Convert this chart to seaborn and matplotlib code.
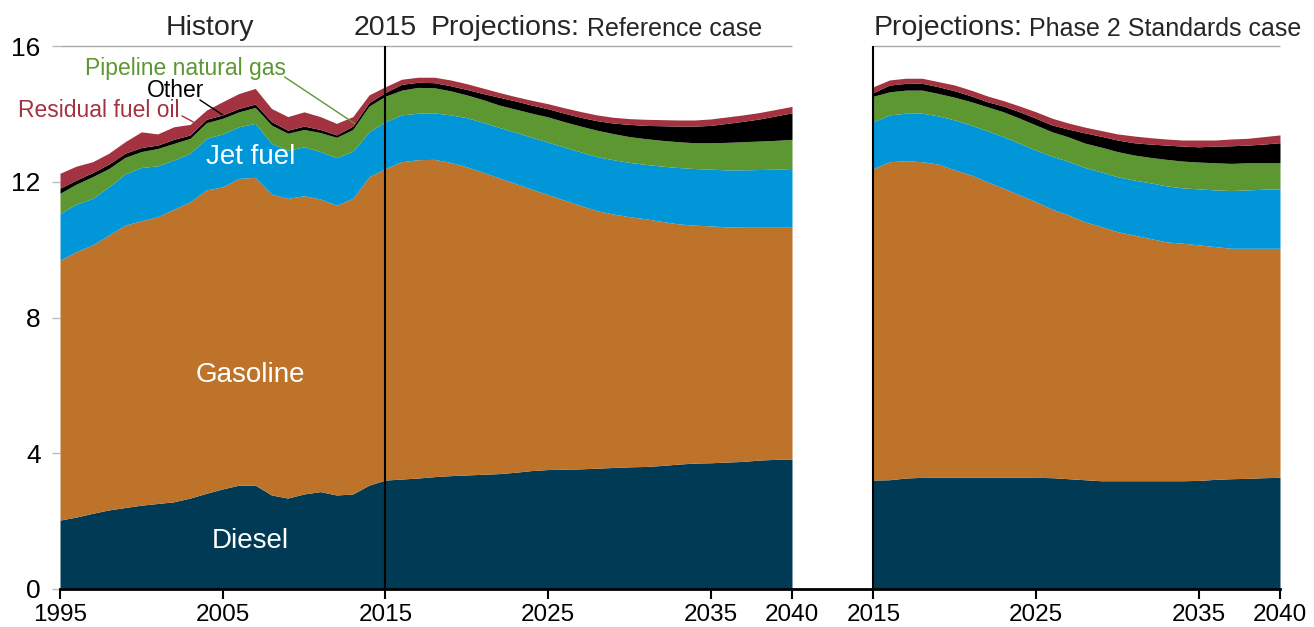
import numpy as np
import matplotlib
matplotlib.use("Agg")
import matplotlib.pyplot as plt
import seaborn as sns

# Reference case: history 1995-2015 + projections 2016-2040 (million barrels/day oil equiv.)
years_ref = list(range(1995, 2041))
diesel_ref = [2.03, 2.12, 2.23, 2.33, 2.40, 2.47, 2.52, 2.57, 2.68, 2.82, 2.95, 3.06, 3.06, 2.77, 2.68,
              2.80, 2.87, 2.77, 2.80, 3.06, 3.21,
              3.24, 3.27, 3.31, 3.34, 3.36, 3.38, 3.40, 3.44, 3.49, 3.52, 3.53, 3.54, 3.56, 3.58, 3.60,
              3.61, 3.64, 3.68, 3.71, 3.72, 3.74, 3.76, 3.80, 3.82, 3.82]
gasoline_ref = [7.66, 7.82, 7.91, 8.10, 8.32, 8.38, 8.45, 8.62, 8.73, 8.94, 8.90, 9.04, 9.07, 8.87, 8.83,
                8.79, 8.62, 8.54, 8.71, 9.09, 9.18,
                9.35, 9.38, 9.35, 9.23, 9.08, 8.90, 8.71, 8.51, 8.29, 8.10, 7.93, 7.76, 7.59, 7.47, 7.37,
                7.30, 7.19, 7.08, 7.01, 6.98, 6.93, 6.90, 6.86, 6.84, 6.84]
jet_ref = [1.38, 1.40, 1.37, 1.42, 1.51, 1.57, 1.50, 1.45, 1.43, 1.52, 1.56, 1.52, 1.59, 1.49, 1.42,
           1.44, 1.40, 1.40, 1.39, 1.32, 1.38,
           1.38, 1.37, 1.37, 1.40, 1.45, 1.47, 1.49, 1.51, 1.53, 1.55, 1.56, 1.58, 1.59, 1.60, 1.60,
           1.60, 1.63, 1.66, 1.67, 1.67, 1.68, 1.69, 1.70, 1.71, 1.73]
natgas_ref = [0.59, 0.59, 0.64, 0.54, 0.49, 0.47, 0.51, 0.49, 0.44, 0.46, 0.46, 0.44, 0.47, 0.54, 0.50,
              0.51, 0.56, 0.60, 0.64, 0.76, 0.75,
              0.73, 0.76, 0.74, 0.71, 0.67, 0.67, 0.66, 0.68, 0.71, 0.74, 0.75, 0.76, 0.78, 0.77, 0.76,
              0.76, 0.76, 0.76, 0.76, 0.78, 0.81, 0.83, 0.84, 0.85, 0.86]
other_ref = [0.15, 0.12, 0.12, 0.13, 0.12, 0.12, 0.10, 0.12, 0.10, 0.10, 0.10, 0.10, 0.10, 0.10, 0.09,
             0.10, 0.09, 0.07, 0.10, 0.10, 0.11,
             0.17, 0.15, 0.15, 0.15, 0.16, 0.18, 0.23, 0.24, 0.24, 0.24, 0.25, 0.26, 0.28, 0.31, 0.36,
             0.39, 0.43, 0.46, 0.49, 0.51, 0.56, 0.60, 0.65, 0.72, 0.78]
resid_ref = [0.44, 0.41, 0.32, 0.32, 0.34, 0.46, 0.33, 0.37, 0.31, 0.27, 0.39, 0.44, 0.46, 0.39, 0.40,
             0.42, 0.38, 0.34, 0.28, 0.23, 0.17,
             0.15, 0.15, 0.16, 0.17, 0.17, 0.16, 0.14, 0.13, 0.14, 0.15, 0.16, 0.17, 0.17, 0.17, 0.17,
             0.18, 0.18, 0.18, 0.18, 0.19, 0.19, 0.19, 0.19, 0.19, 0.19]

# Phase 2 Standards case 2015-2040
years_p2 = list(range(2015, 2041))
diesel_p2 = [3.21, 3.22, 3.27, 3.29, 3.29, 3.29, 3.29, 3.29, 3.29, 3.29, 3.29, 3.28, 3.25, 3.22, 3.19,
             3.19, 3.19, 3.19, 3.19, 3.19, 3.20, 3.23, 3.25, 3.26, 3.28, 3.29]
gasoline_p2 = [9.18, 9.37, 9.35, 9.30, 9.23, 9.06, 8.91, 8.71, 8.52, 8.32, 8.12, 7.91, 7.77, 7.60, 7.49,
               7.34, 7.24, 7.14, 7.04, 7.00, 6.94, 6.86, 6.79, 6.78, 6.76, 6.75]
jet_p2 = [1.38, 1.38, 1.40, 1.43, 1.42, 1.47, 1.47, 1.50, 1.52, 1.52, 1.52, 1.56, 1.58, 1.60, 1.61,
          1.62, 1.62, 1.64, 1.65, 1.63, 1.65, 1.67, 1.70, 1.72, 1.74, 1.75]
natgas_p2 = [0.75, 0.68, 0.68, 0.68, 0.66, 0.67, 0.69, 0.71, 0.73, 0.74, 0.74, 0.72, 0.72, 0.72, 0.73,
             0.74, 0.74, 0.75, 0.78, 0.79, 0.79, 0.80, 0.80, 0.80, 0.78, 0.77]
other_p2 = [0.11, 0.20, 0.20, 0.20, 0.20, 0.19, 0.17, 0.15, 0.17, 0.19, 0.20, 0.20, 0.23, 0.30, 0.32,
            0.34, 0.36, 0.39, 0.42, 0.44, 0.45, 0.49, 0.52, 0.52, 0.55, 0.59]
resid_p2 = [0.17, 0.15, 0.15, 0.15, 0.15, 0.17, 0.17, 0.17, 0.16, 0.17, 0.19, 0.20, 0.18, 0.17, 0.17,
            0.18, 0.20, 0.19, 0.18, 0.18, 0.20, 0.18, 0.20, 0.20, 0.22, 0.23]

tick_years = [1995, 2005, 2015, 2025, 2035, 2040, 2015, 2025, 2035, 2040]

colors = ["#003A54", "#BD732A", "#0096D7", "#5D9732", "#000000", "#A33340"]
shift = 30  # right panel drawn 30 years to the right on the same axis

sns.set_theme(style="white")
plt.rcParams["font.family"] = ["Liberation Sans", "DejaVu Sans"]

fig = plt.figure(figsize=(13.14, 6.27), dpi=100)
ax = fig.add_axes([60 / 1314, 38 / 627, 1220 / 1314, 543 / 627])

ax.stackplot(years_ref, diesel_ref, gasoline_ref, jet_ref, natgas_ref, other_ref, resid_ref,
             colors=colors, linewidth=0)
ax.stackplot(np.array(years_p2) + shift, diesel_p2, gasoline_p2, jet_p2, natgas_p2, other_p2, resid_p2,
             colors=colors, linewidth=0)

ax.set_xlim(1995, 2070)
ax.set_ylim(0, 16)

# top rule and dividers
ax.hlines(16, 1995, 2040, color="#AAAAAA", lw=1, clip_on=False)
ax.hlines(16, 2015 + shift, 2040 + shift, color="#AAAAAA", lw=1, clip_on=False)
ax.vlines([2015, 2015 + shift], 0, 16, color="black", lw=1.5)

sns.despine(ax=ax, left=True)
ax.spines["bottom"].set_color("black")
ax.spines["bottom"].set_linewidth(2)

ax.set_yticks([0, 4, 8, 12, 16])
ax.set_yticklabels(["0", "4", "8", "12", "16"])
ax.tick_params(axis="y", left=True, length=6, width=1, color="#BBBBBB", labelsize=19, pad=8,
               labelcolor="black")
xt = [y if i < 6 else y + shift for i, y in enumerate(tick_years)]
ax.set_xticks(xt)
ax.set_xticklabels([str(y) for y in tick_years])
ax.tick_params(axis="x", bottom=True, length=7, width=1.5, color="black", labelsize=17.5, pad=3.5,
               labelcolor="black")
ax.grid(False)

# headings
ax.text(2004.2, 16.15, "History", ha="center", va="bottom", fontsize=20.5, clip_on=False)
ax.text(2015, 16.15, "2015", ha="center", va="bottom", fontsize=20.5, clip_on=False)
t1 = ax.text(2017.8, 16.15, "Projections:", ha="left", va="bottom", fontsize=20.5, clip_on=False)
ax.annotate("Reference case", xy=(1, 0), xycoords=t1, xytext=(5, 0), textcoords="offset points",
            ha="left", va="bottom", fontsize=18)
t2 = ax.text(2045, 16.15, "Projections:", ha="left", va="bottom", fontsize=20.5, clip_on=False)
ax.annotate("Phase 2 Standards case", xy=(1, 0), xycoords=t2, xytext=(5, 0), textcoords="offset points",
            ha="left", va="bottom", fontsize=18)

# series labels
ax.text(2006.7, 1.41, "Diesel", color="white", ha="center", va="center", fontsize=20)
ax.text(2006.7, 6.3, "Gasoline", color="white", ha="center", va="center", fontsize=20)
ax.text(2006.7, 12.73, "Jet fuel", color="white", ha="center", va="center", fontsize=20)
ax.text(1997.4, 14.1, "Residual fuel oil", color="#A33340", ha="center", va="center", fontsize=16.5,
        clip_on=False)
ax.text(2002.1, 14.7, "Other", color="black", ha="center", va="center", fontsize=16.5)
ax.text(2002.7, 15.33, "Pipeline natural gas", color="#5D9732", ha="center", va="center", fontsize=16.5)

# leader lines
ax.plot([2002.5, 2003.2], [13.94, 13.76], color="#A33340", lw=1)
ax.plot([2003.6, 2005.0], [14.41, 13.97], color="black", lw=1)
ax.plot([2008.8, 2013.1], [15.09, 13.72], color="#5D9732", lw=1)

fig.savefig("out.png", dpi=100)
